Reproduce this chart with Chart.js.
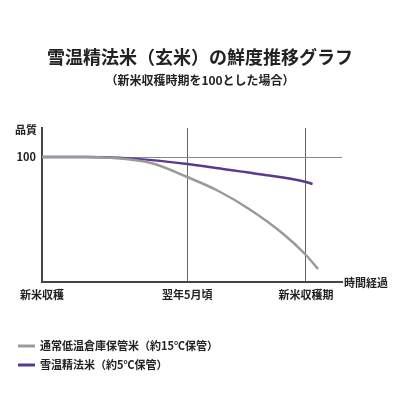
<!DOCTYPE html>
<html lang="ja">
<head>
<meta charset="UTF-8" />
<title>雪温精法米（玄米）の鮮度推移グラフ</title>
<style>
  body { margin: 0; background: #fff; }
  #c { display: block; }
</style>
<script src="https://cdn.jsdelivr.net/npm/chart.js"></script>
</head>
<body>
<canvas id="c" width="400" height="400"></canvas>
<script>
  // x = 新米収穫からの経過月数
  const tickPositions = [0, 6.6, 12];
  const tickLabels = ['新米収穫', '翌年5月頃', '新米収穫期'];
  const seriesNames = ['通常低温倉庫保管米（約15℃保管）', '雪温精法米（約5℃保管）'];
  const seriesColors = ['#9a9a9a', '#5b3a8e'];
  const regularX = [0, 2, 3, 5, 6.6, 8, 9.45, 11, 12, 12.55];
  const regularY = [100, 100, 99.5, 95, 84, 73, 58, 38, 21.6, 10.4];
  const snowX = [0, 2, 3.5, 5, 6.6, 8, 10, 12, 12.3];
  const snowY = [100, 100, 99.5, 97.5, 94.4, 91, 86, 80, 78.4];

  const FONT = '"Noto Sans CJK JP", "Noto Sans", sans-serif';

  const toPts = (xs, ys) => xs.map((x, i) => ({ x: x, y: ys[i] }));

  const textPlugin = {
    id: 'texts',
    afterDraw(chart) {
      const ctx = chart.ctx;
      const a = chart.chartArea;
      ctx.save();
      ctx.fillStyle = '#222';
      ctx.textAlign = 'center';
      ctx.textBaseline = 'middle';
      ctx.font = 'bold 18px ' + FONT;
      ctx.fillText('雪温精法米（玄米）の鮮度推移グラフ', 200, 57);
      ctx.font = 'bold 12px ' + FONT;
      ctx.fillText('（新米収穫時期を100とした場合）', 200, 80);
      ctx.font = 'bold 11px ' + FONT;
      ctx.textAlign = 'left';
      ctx.fillText('品質', 15, 130);
      ctx.fillText('時間経過', a.right + 2, a.bottom + 1);
      // legend
      seriesNames.forEach((name, i) => {
        const y = 346 + i * 19;
        ctx.strokeStyle = seriesColors[i];
        ctx.lineWidth = 3;
        ctx.beginPath();
        ctx.moveTo(18, y);
        ctx.lineTo(35, y);
        ctx.stroke();
        ctx.fillStyle = '#222';
        ctx.fillText(name, 40, y);
      });
      ctx.restore();
    }
  };

  new Chart(document.getElementById('c'), {
    type: 'line',
    data: {
      datasets: [
        { label: seriesNames[0], data: toPts(regularX, regularY), borderColor: seriesColors[0], borderWidth: 2.5, pointRadius: 0, cubicInterpolationMode: 'monotone' },
        { label: seriesNames[1], data: toPts(snowX, snowY), borderColor: seriesColors[1], borderWidth: 2.5, pointRadius: 0, cubicInterpolationMode: 'monotone' }
      ]
    },
    options: {
      responsive: false,
      animation: false,
      layout: { padding: { top: 128, right: 58, left: 0, bottom: 0 } },
      plugins: { legend: { display: false }, tooltip: { enabled: false } },
      scales: {
        x: {
          type: 'linear',
          min: 0,
          max: 13.64,
          afterBuildTicks: s => { s.ticks = tickPositions.map(v => ({ value: v })); },
          afterFit: s => { s.height = 118; },
          ticks: {
            autoSkip: false,
            maxRotation: 0,
            padding: 6,
            color: '#222',
            font: { family: FONT, size: 11, weight: 'bold' },
            callback: v => tickLabels[tickPositions.indexOf(v)]
          },
          grid: {
            drawTicks: false,
            color: ctx => (ctx.tick && ctx.tick.value > 0 ? '#666' : 'rgba(0,0,0,0)'),
            lineWidth: 1
          },
          border: { color: '#444', width: 2 }
        },
        y: {
          min: 0,
          max: 123.2,
          afterBuildTicks: s => { s.ticks = [{ value: 100 }]; },
          afterFit: s => { s.width = 42; },
          ticks: {
            padding: 6,
            color: '#222',
            font: { family: FONT, size: 11, weight: 'bold' }
          },
          grid: { drawTicks: false, color: '#888', lineWidth: 1 },
          border: { color: '#444', width: 2 }
        }
      }
    },
    plugins: [textPlugin]
  });
</script>
</body>
</html>
